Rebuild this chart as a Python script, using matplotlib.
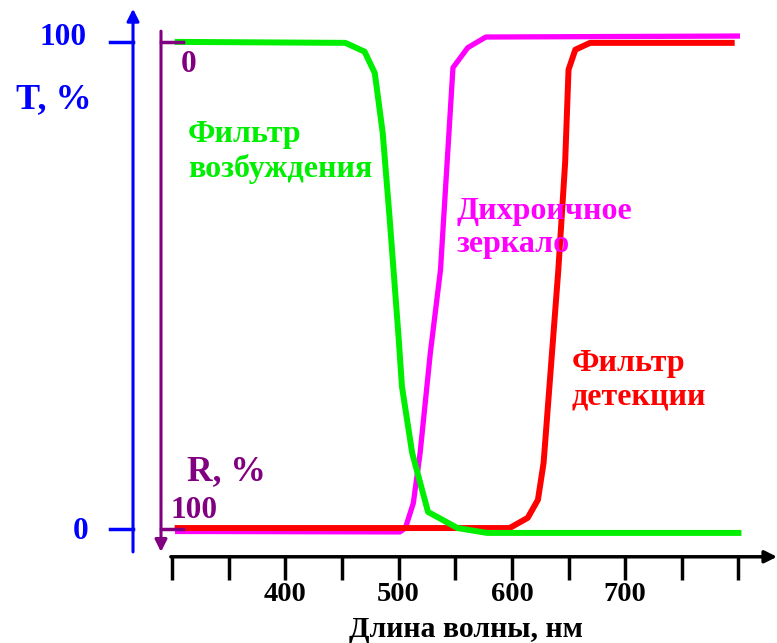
import matplotlib.pyplot as plt

plt.rcParams['font.family'] = ['Liberation Serif', 'DejaVu Serif']
plt.rcParams['font.weight'] = 'bold'

# спектры (длина волны, нм -> T, %)
wl_exc = [305, 453, 470, 479, 486, 492, 500, 503, 512, 526, 552, 578, 800]
t_exc = [100, 99.8, 98, 93.6, 81.3, 64.1, 39.4, 29.2, 15.6, 3.5, 0.2, -0.8, -0.8]

wl_dich = [305, 501, 506, 513, 519, 528, 537, 548, 561, 577, 799]
t_dich = [-0.5, -0.6, 0.2, 5.3, 15.6, 36.1, 53.2, 94.7, 98.8, 101, 101.2]

wl_det = [305, 598, 614, 623, 628, 641, 647, 650, 656, 669, 794]
t_det = [0.2, 0.2, 2.3, 6, 13.6, 53.2, 75.2, 94.3, 98.4, 99.8, 99.8]

x_ticks = [300, 350, 400, 450, 500, 550, 600, 650, 700, 750, 800]
x_labels = [400, 500, 600, 700]

fig = plt.figure(figsize=(7.77, 6.43), dpi=100)
ax = fig.add_axes([0, 0, 1, 1])
ax.set_xlim(148.2, 834)
ax.set_ylim(-23.4, 108.6)
ax.axis('off')

ax.plot(wl_dich, t_dich, color='#ff00ff', lw=3.8, solid_joinstyle='round', clip_on=False)
ax.plot(wl_det, t_det, color='#ff0000', lw=4.3, solid_joinstyle='round', clip_on=False)
ax.plot(wl_exc, t_exc, color='#00ee00', lw=4.3, solid_joinstyle='round', clip_on=False)

# ось T (синяя)
tx = 265.6
ax.annotate('', xy=(tx, 106.8), xytext=(tx, -4.7),
            arrowprops=dict(arrowstyle='-|>', color='blue', lw=2.2, mutation_scale=18, shrinkA=0, shrinkB=0))
ax.plot([245.3, tx], [100, 100], color='blue', lw=2.5)
ax.plot([245.3, tx], [0, 0], color='blue', lw=2.5)
ax.text(204, 101.0, '100', color='blue', fontsize=22.5, ha='center', va='center')
ax.text(196, 88.1, 'T, %', color='blue', fontsize=26, ha='center', va='center')
ax.text(219, -0.6, '0', color='blue', fontsize=22.5, ha='center', va='center')

# ось R (фиолетовая, вниз)
rx = 290.3
ax.annotate('', xy=(rx, -4.7), xytext=(rx, 102.2),
            arrowprops=dict(arrowstyle='-|>', color='purple', lw=2.2, mutation_scale=18, shrinkA=0, shrinkB=0))
ax.plot([rx, 310], [100, 100], color='purple', lw=2.5)
ax.plot([rx, 310], [0, 0], color='purple', lw=2.5)
ax.text(315, 95.3, '0', color='purple', fontsize=22.5, ha='center', va='center')
ax.text(348.5, 11.7, 'R, %', color='purple', fontsize=25.5, ha='center', va='center')
ax.text(319.4, 3.7, '100', color='purple', fontsize=22.5, ha='center', va='center')

# ось длин волн
ax.annotate('', xy=(834, -5.7), xytext=(299, -5.7),
            arrowprops=dict(arrowstyle='-|>', color='black', lw=2.5, mutation_scale=18, shrinkA=0, shrinkB=0))
for x in x_ticks:
    ax.plot([x, x], [-5.7, -10.5], color='black', lw=2.5, solid_capstyle='butt')
for x in x_labels:
    ax.text(x, -13.35, str(x), color='black', fontsize=20.5, ha='center', va='center')
ax.text(559.5, -23.35, 'Длина волны, нм', color='black', fontsize=21.5, ha='center', va='bottom')

ax.text(314, 77.4, 'Фильтр\nвозбуждения', color='#00ee00', fontsize=23,
        ha='left', va='center', linespacing=1.2)
ax.text(551.5, 61.8, 'Дихроичное\nзеркало', color='#ff00ff', fontsize=23,
        ha='left', va='center', linespacing=1.2)
ax.text(653, 30.6, 'Фильтр\nдетекции', color='#ff0000', fontsize=23,
        ha='left', va='center', linespacing=1.2)

fig.savefig('out.png', dpi=100)
